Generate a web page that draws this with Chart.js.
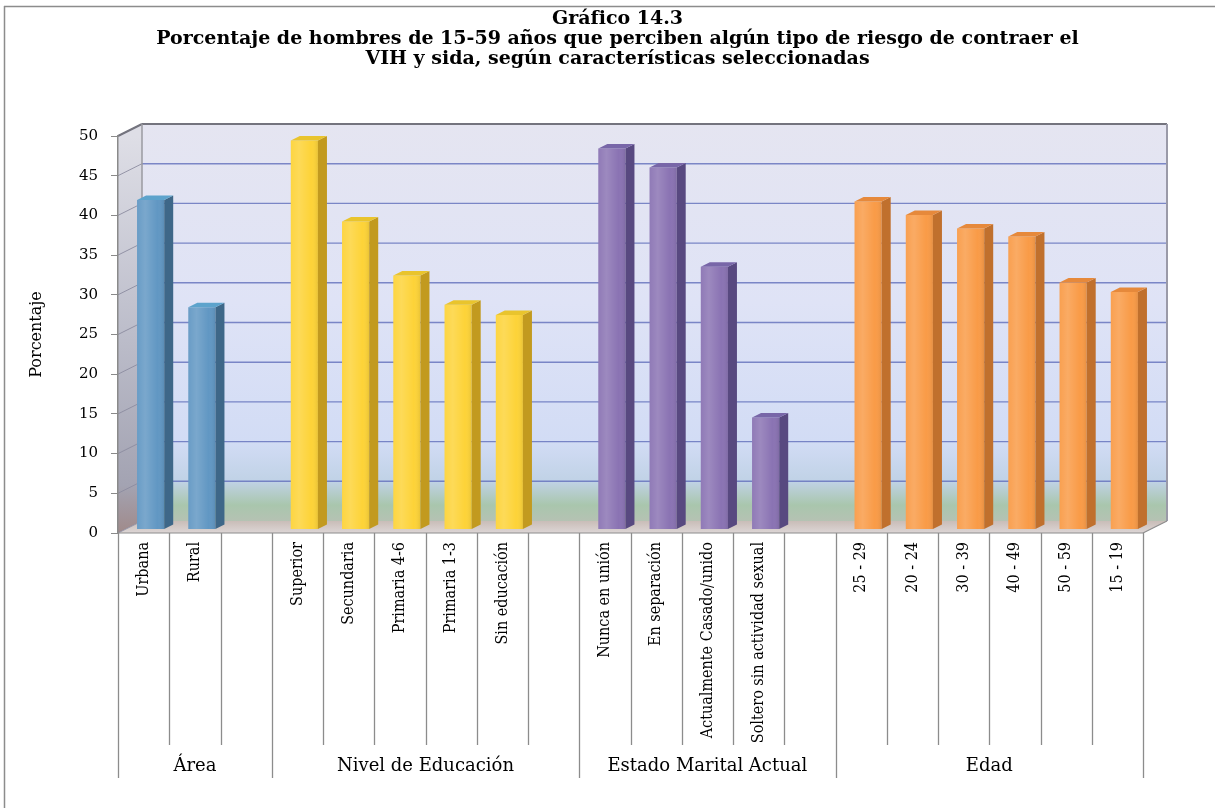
<!DOCTYPE html>
<html lang="es">
<head>
<meta charset="utf-8">
<title>Gráfico 14.3</title>
<script src="https://cdn.jsdelivr.net/npm/chart.js@4.4.1/dist/chart.umd.min.js"></script>
<style>
  html, body { margin: 0; padding: 0; background: #fff; }
  canvas { display: block; }
</style>
</head>
<body>
<canvas id="chart" width="1215" height="808"></canvas>
<script>
// Categories along the x axis; empty strings leave a gap between groups
const categories = [
  'Urbana', 'Rural', '',
  'Superior', 'Secundaria', 'Primaria 4-6', 'Primaria 1-3', 'Sin educación', '',
  'Nunca en unión', 'En separación', 'Actualmente Casado/unido', 'Soltero sin actividad sexual', '',
  '25 - 29', '20 - 24', '30 - 39', '40 - 49', '50 - 59', '15 - 19'
];
// Percentage of men perceiving some risk (null = gap column)
const values = [
  41.5, 28.0, null,
  49.0, 38.8, 32.0, 28.3, 27.0, null,
  48.0, 45.6, 33.1, 14.1, null,
  41.3, 39.6, 37.9, 36.9, 31.1, 29.9
];
const groupLabels = ['Área', 'Nivel de Educación', 'Estado Marital Actual', 'Edad'];
const groupSizes = [3, 6, 5, 6];
const yTicks = [0, 5, 10, 15, 20, 25, 30, 35, 40, 45, 50];
const titleLines = [
  'Gráfico 14.3',
  'Porcentaje de hombres de 15-59 años que perciben algún tipo de riesgo de contraer el',
  'VIH y sida, según características seleccionadas'
];
const axisTitle = 'Porcentaje';

// Face colours for each group: front, side, top
const groupFront = ['#6197c3', '#fdd338', '#8a73b3', '#f99b47'];
const groupSide  = ['#3e6788', '#c29a1f', '#584980', '#c0702d'];
const groupTop   = ['#5da3cc', '#e9c42d', '#7866a8', '#e6893b'];

const groupOf = [];
groupSizes.forEach((n, g) => { for (let i = 0; i < n; i++) groupOf.push(g); });

const SERIF_C = '"DejaVu Serif Condensed", "DejaVu Serif", serif';
const SERIF = '"DejaVu Serif", serif';

// 3D geometry of the plot box and the columns
const DEPTH = { x: 24, y: -12 };
const BAR_SHIFT = { x: 7, y: -3.5 };
const BAR_DEPTH = { x: 9, y: -4.5 };

function line(ctx, x1, y1, x2, y2) {
  ctx.beginPath(); ctx.moveTo(x1, y1); ctx.lineTo(x2, y2); ctx.stroke();
}
function poly(ctx, pts, fill) {
  ctx.beginPath();
  ctx.moveTo(pts[0][0], pts[0][1]);
  for (let i = 1; i < pts.length; i++) ctx.lineTo(pts[i][0], pts[i][1]);
  ctx.closePath();
  ctx.fillStyle = fill; ctx.fill();
}

// Outer frame, back wall, side wall, floor and gridlines
const wallsPlugin = {
  id: 'walls',
  beforeDraw(chart) {
    const { ctx, chartArea: a, scales } = chart;
    const dx = DEPTH.x, dy = DEPTH.y;
    ctx.save();

    ctx.strokeStyle = '#8c8c8c'; ctx.lineWidth = 1.5;
    line(ctx, 4.5, 6, 4.5, chart.height);
    line(ctx, 4, 6.5, chart.width, 6.5);

    // back wall
    const bw = ctx.createLinearGradient(0, a.top + dy, 0, a.bottom + dy);
    bw.addColorStop(0, '#e5e5f1');
    bw.addColorStop(0.45, '#dfe3f6');
    bw.addColorStop(0.8, '#d2dcf5');
    bw.addColorStop(0.9, '#c0d2e6');
    bw.addColorStop(0.96, '#a9c6ad');
    bw.addColorStop(1, '#b5c2b3');
    ctx.fillStyle = bw;
    ctx.fillRect(a.left + dx, a.top + dy, a.right - a.left, a.bottom - a.top);

    // side wall
    const sw = ctx.createLinearGradient(0, a.top, 0, a.bottom);
    sw.addColorStop(0, '#dedee6');
    sw.addColorStop(0.5, '#bcbdca');
    sw.addColorStop(0.88, '#a3a3b2');
    sw.addColorStop(1, '#a08a8a');
    poly(ctx, [[a.left, a.top], [a.left + dx, a.top + dy], [a.left + dx, a.bottom + dy], [a.left, a.bottom]], sw);

    // floor
    const fl = ctx.createLinearGradient(0, a.bottom + dy, 0, a.bottom);
    fl.addColorStop(0, '#c9bdb8');
    fl.addColorStop(1, '#ddd6d6');
    poly(ctx, [[a.left, a.bottom], [a.left + dx, a.bottom + dy], [a.right + dx, a.bottom + dy], [a.right, a.bottom]], fl);

    // gridlines
    const y = scales.y;
    yTicks.forEach(v => {
      const py = y.getPixelForValue(v);
      if (v > 0) {
        ctx.strokeStyle = 'rgba(96,110,186,0.8)'; ctx.lineWidth = 1.4;
        line(ctx, a.left + dx, py + dy, a.right + dx, py + dy);
      }
      ctx.strokeStyle = 'rgba(140,140,160,0.9)'; ctx.lineWidth = 1;
      line(ctx, a.left, py, a.left + dx, py + dy);
    });

    // box edges
    ctx.strokeStyle = '#74747e'; ctx.lineWidth = 2;
    line(ctx, a.left + dx, a.top + dy, a.right + dx, a.top + dy);
    line(ctx, a.left, a.top, a.left + dx, a.top + dy);
    ctx.strokeStyle = '#9a9aa8'; ctx.lineWidth = 2;
    line(ctx, a.right + dx, a.top + dy, a.right + dx, a.bottom + dy);
    ctx.strokeStyle = '#9a9aa0'; ctx.lineWidth = 1.5;
    line(ctx, a.left + dx, a.top + dy, a.left + dx, a.bottom + dy);
    ctx.strokeStyle = '#8c8c8c'; ctx.lineWidth = 1.2;
    line(ctx, a.right, a.bottom, a.right + dx, a.bottom + dy);
    line(ctx, a.left, a.bottom, a.right, a.bottom);
    ctx.restore();
  }
};

// Columns sit inside the box depth: shift the fronts, then add side and top faces
const columnPlugin = {
  id: 'columns',
  beforeDatasetsDraw(chart) {
    chart.ctx.save();
    chart.ctx.translate(BAR_SHIFT.x, BAR_SHIFT.y);
  },
  afterDatasetsDraw(chart) {
    const ctx = chart.ctx;
    const meta = chart.getDatasetMeta(0);
    meta.data.forEach((el, i) => {
      if (values[i] === null) return;
      const { x, y, base, width } = el.getProps(['x', 'y', 'base', 'width'], true);
      const g = groupOf[i];
      const xl = x - width / 2, xr = x + width / 2;
      const bx = BAR_DEPTH.x, by = BAR_DEPTH.y;
      // soft highlight on the front face
      const hl = ctx.createLinearGradient(xl, 0, xr, 0);
      hl.addColorStop(0, 'rgba(255,255,255,0.05)');
      hl.addColorStop(0.3, 'rgba(255,255,255,0.16)');
      hl.addColorStop(0.75, 'rgba(255,255,255,0)');
      hl.addColorStop(1, 'rgba(0,0,0,0.08)');
      ctx.fillStyle = hl;
      ctx.fillRect(xl, y, width, base - y);
      poly(ctx, [[xr, y], [xr + bx, y + by], [xr + bx, base + by], [xr, base]], groupSide[g]);
      poly(ctx, [[xl, y], [xl + bx, y + by], [xr + bx, y + by], [xr, y]], groupTop[g]);
    });
    ctx.restore();
  }
};

// Category cell lines and the group row below the axis
const categoryFramePlugin = {
  id: 'categoryFrame',
  afterDraw(chart) {
    const { ctx, chartArea: a, scales } = chart;
    const x = scales.x;
    const step = (a.right - a.left) / categories.length;
    const bounds = [0];
    groupSizes.reduce((s, n) => { bounds.push(s + n); return s + n; }, 0);
    ctx.save();
    ctx.strokeStyle = '#8c8c8c'; ctx.lineWidth = 1.3;
    for (let i = 0; i <= categories.length; i++) {
      const px = Math.round(a.left + i * step) + 0.5;
      const isGroup = bounds.includes(i);
      line(ctx, px, a.bottom, px, isGroup ? 778 : 745);
    }
    ctx.fillStyle = '#000';
    ctx.font = '18px ' + SERIF;
    ctx.textAlign = 'center';
    ctx.textBaseline = 'middle';
    groupLabels.forEach((lab, g) => {
      const first = bounds[g], last = bounds[g + 1] - 1;
      const cx = (x.getPixelForValue(first) + x.getPixelForValue(last)) / 2;
      ctx.fillText(lab, cx, 766);
    });
    ctx.restore();
  }
};

new Chart(document.getElementById('chart'), {
  type: 'bar',
  data: {
    labels: categories,
    datasets: [{
      data: values,
      backgroundColor: groupOf.map(g => groupFront[g]),
      borderWidth: 0,
      barPercentage: 0.53,
      categoryPercentage: 1
    }]
  },
  options: {
    responsive: false,
    animation: false,
    devicePixelRatio: 1,
    layout: { padding: { left: 20, right: 0, top: 0, bottom: 0 } },
    plugins: {
      legend: { display: false },
      tooltip: { enabled: false },
      title: {
        display: true,
        text: titleLines,
        color: '#000',
        font: { family: SERIF, size: 19, weight: 'bold', lineHeight: 20 / 19 },
        padding: { top: 9, bottom: 67 }
      }
    },
    scales: {
      x: {
        grid: { display: false },
        border: { display: false },
        ticks: {
          autoSkip: false, maxRotation: 90, minRotation: 90, padding: 1,
          color: '#000', font: { family: SERIF_C, size: 16 }
        },
        afterFit(s) { s.height = 275; }
      },
      y: {
        min: 0, max: 50,
        afterBuildTicks(s) { s.ticks = yTicks.map(v => ({ value: v })); },
        ticks: { color: '#000', padding: 13, font: { family: SERIF, size: 15 } },
        grid: { display: true, drawOnChartArea: false, drawTicks: true, tickLength: 7, color: '#8a8a8a' },
        border: { display: true, color: '#8a8a8a', width: 1.5 },
        title: { display: true, text: axisTitle, color: '#000', font: { family: SERIF, size: 16 }, padding: 7 },
        afterFit(s) { s.width = 98; }
      },
      yRight: {
        type: 'linear', position: 'right', display: true,
        grid: { display: false }, border: { display: false }, ticks: { display: false },
        afterFit(s) { s.width = 72; }
      }
    }
  },
  plugins: [wallsPlugin, columnPlugin, categoryFramePlugin]
});
</script>
</body>
</html>
